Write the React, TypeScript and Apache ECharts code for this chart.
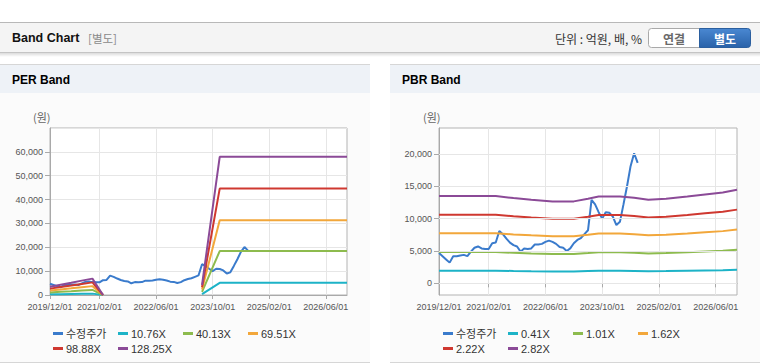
import React, { useEffect, useRef } from 'react';
import * as echarts from 'echarts';

// ---------- data ----------
const months: string[] = [];
for (let y = 2019, m = 12; y < 2027; ) {
  months.push(`${y}/${String(m).padStart(2, '0')}/01`);
  if (y === 2026 && m === 12) break;
  m++;
  if (m > 12) { m = 1; y++; }
}

const xTickLabels = ['2019/12/01', '2021/02/01', '2022/06/01', '2023/10/01', '2025/02/01', '2026/06/01'];

// 수정주가 (monthly from 2019/12)
const price = [
  4700, 4200, 3700, 3200, 4200, 4200, 4300, 4400, 4200, 4900,
  5500, 5700, 5400, 5300, 5300, 6200, 6300, 8100, 7600, 6900,
  6300, 5900, 5700, 4900, 5400, 5300, 5400, 6000, 6000, 6100,
  6400, 6600, 6400, 6100, 5600, 5500, 5000, 5400, 6200, 6700,
  7000, 7600, 8200, 12900, 12200, 11000, 10000, 11000, 10900, 10300,
  9000, 9500, 12200, 15000, 18100, 20100, 18600,
];

// PER band
const perNames = ['10.76X', '40.13X', '69.51X', '98.88X', '128.25X'];
const perDates1 = ['2019/12/01', '2020/03/01', '2020/06/01', '2020/09/01', '2020/12/01', '2021/03/01'];
const perGapDate = '2022/06/01';
const perDates2 = ['2023/07/01', '2023/12/01', '2026/12/01'];
const per1076 = [290, 360, 430, 505, 575, 0, 350, 5100, 5100];
const per4013 = [1085, 1345, 1605, 1885, 2145, 0, 1310, 18400, 18400];
const per6951 = [1875, 2330, 2780, 3265, 3720, 0, 2275, 31300, 31300];
const per9888 = [2670, 3310, 3955, 4645, 5290, 0, 3235, 44600, 44600];
const per12825 = [3465, 4295, 5130, 6030, 6860, 0, 4195, 57900, 57900];
const perTicks = [0, 10000, 20000, 30000, 40000, 50000, 60000, 70000];

// PBR band
const pbrNames = ['0.41X', '1.01X', '1.62X', '2.22X', '2.82X'];
const pbrDates = [
  '2019/12/01', '2021/04/01', '2021/09/01', '2022/02/01', '2022/08/01', '2023/02/01', '2023/06/01', '2023/09/01',
  '2024/03/01', '2024/07/01', '2024/11/01', '2025/04/01', '2025/10/01', '2026/03/01', '2026/08/01', '2026/12/01',
];
const pbr041 = [1960, 1960, 1915, 1878, 1841, 1841, 1902, 1952, 1952, 1923, 1878, 1902, 1952, 1997, 2042, 2103];
const pbr101 = [4828, 4828, 4717, 4626, 4535, 4535, 4686, 4808, 4808, 4737, 4626, 4686, 4808, 4919, 5030, 5181];
const pbr162 = [7744, 7744, 7565, 7420, 7274, 7274, 7517, 7711, 7711, 7598, 7420, 7517, 7711, 7889, 8068, 8311];
const pbr222 = [10612, 10612, 10367, 10168, 9968, 9968, 10301, 10567, 10567, 10412, 10168, 10301, 10567, 10811, 11056, 11389];
const pbr282 = [13480, 13480, 13169, 12916, 12662, 12662, 13085, 13423, 13423, 13226, 12916, 13085, 13423, 13733, 14044, 14467];
const pbrTicks = [0, 5000, 10000, 15000, 20000];

// ---------- style ----------
const FONT = "'Liberation Sans', Arial, 'Noto Sans CJK KR', sans-serif";
const KFONT = "'Noto Sans CJK KR', 'Liberation Sans', sans-serif";
const PRICE_NAME = '수정주가';
const BAND_COLORS = ['#1db3c7', '#8dbb4e', '#f2a73b', '#cf3830', '#8b4a97'];
const PRICE_COLOR = '#3a7bcc';

const perBands = [per1076, per4013, per6951, per9888, per12825];
const pbrBands = [pbr041, pbr101, pbr162, pbr222, pbr282];

function perPairs(vals: number[]) {
  const out: any[] = [];
  perDates1.forEach((d, i) => out.push([d, vals[i]]));
  out.push([perGapDate, '-']);
  perDates2.forEach((d, i) => out.push([d, vals[perDates1.length + i]]));
  return out;
}
function pbrPairs(vals: number[]) {
  return pbrDates.map((d, i) => [d, vals[i]]);
}

const fmt = (v: number) => Number(v).toLocaleString('en-US');
const showTick = (_i: number, v: string) => xTickLabels.includes(v);

function xAxisFor(gridIndex: number) {
  return {
    type: 'category',
    gridIndex,
    data: months,
    boundaryGap: false,
    axisLine: { show: true, lineStyle: { color: '#a9a9a9' } },
    axisTick: { show: true, interval: showTick, length: 4, lineStyle: { color: '#a9a9a9' } },
    axisLabel: { interval: showTick, fontSize: 9, color: '#555', margin: 7, fontFamily: FONT },
    splitLine: { show: true, interval: showTick, lineStyle: { color: '#e6e6e6' } },
  };
}

function legendItem(name: string, left: number, top: number) {
  return {
    data: [name],
    left,
    top,
    padding: 0,
    itemGap: 0,
    itemWidth: 10,
    itemHeight: 3,
    icon: 'rect',
    selectedMode: false,
    textStyle: { fontSize: 11, color: '#333', fontFamily: FONT, padding: [0, 0, 0, -2] },
  };
}

function buildOption() {
  const lineSeries = (name: string, color: string, data: any[], xi: number, z = 3) => ({
    type: 'line',
    name,
    xAxisIndex: xi,
    yAxisIndex: xi,
    data,
    symbol: 'none',
    showSymbol: false,
    z,
    lineStyle: { color, width: 2 },
    itemStyle: { color },
    connectNulls: false,
  });

  const series: any[] = [
    {
      type: 'line', name: 'grid-pbr', xAxisIndex: 1, yAxisIndex: 1, data: [], z: 1, silent: true,
      markLine: {
        silent: true, symbol: ['none', 'none'], label: { show: false },
        lineStyle: { color: '#e6e6e6', type: 'solid', width: 1 },
        data: pbrTicks.map((v) => ({ yAxis: v })),
      },
    },
    lineSeries(PRICE_NAME, PRICE_COLOR, price, 0, 2),
    ...perBands.map((b, i) => lineSeries(perNames[i], BAND_COLORS[i], perPairs(b), 0)),
    lineSeries(PRICE_NAME, PRICE_COLOR, price, 1, 2),
    ...pbrBands.map((b, i) => lineSeries(pbrNames[i], BAND_COLORS[i], pbrPairs(b), 1)),
  ];

  const legends: any[] = [];
  const perLegendNames = [PRICE_NAME, ...perNames];
  const pbrLegendNames = [PRICE_NAME, ...pbrNames];
  perLegendNames.forEach((n, i) => legends.push(legendItem(n, 53 + (i % 4) * 65, 328 + Math.floor(i / 4) * 15)));
  pbrLegendNames.forEach((n, i) => legends.push(legendItem(n, 443 + (i % 4) * 65, 328 + Math.floor(i / 4) * 15)));

  const grad = new echarts.graphic.LinearGradient(0, 0, 0, 1, [
    { offset: 0, color: '#4a88d2' },
    { offset: 1, color: '#2962a9' },
  ]);
  const shadowGrad = new echarts.graphic.LinearGradient(0, 0, 0, 1, [
    { offset: 0, color: 'rgba(0,0,0,0.14)' },
    { offset: 1, color: 'rgba(0,0,0,0)' },
  ]);

  const panel = (x: number, title: string) => [
    { type: 'rect', z: -20, shape: { x, y: 64, width: 370, height: 299 }, style: { fill: '#fbfbfb' } },
    { type: 'rect', z: -19, shape: { x, y: 64, width: 370, height: 29 }, style: { fill: '#eef2f7' } },
    { type: 'line', z: -18, shape: { x1: x, y1: 64.5, x2: x + 370, y2: 64.5 }, style: { stroke: '#d6d6d6', lineWidth: 1 } },
    { type: 'line', z: -18, shape: { x1: x, y1: 362.5, x2: x + 370, y2: 362.5 }, style: { stroke: '#d6d6d6', lineWidth: 1 } },
    { type: 'text', z: 10, x: x + 12, y: 80, style: { text: title, fill: '#000', fontSize: 12, fontWeight: 'bold', fontFamily: FONT, verticalAlign: 'middle' } },
  ];

  const graphics: any[] = [
    { type: 'rect', z: -20, shape: { x: 0, y: 22, width: 760, height: 31 }, style: { fill: '#f4f4f4' } },
    { type: 'rect', z: -20, shape: { x: 0, y: 53, width: 760, height: 4 }, style: { fill: shadowGrad } },
    { type: 'line', z: -18, shape: { x1: 0, y1: 22.5, x2: 760, y2: 22.5 }, style: { stroke: '#b8b8b8', lineWidth: 1 } },
    { type: 'line', z: -18, shape: { x1: 0, y1: 52.5, x2: 760, y2: 52.5 }, style: { stroke: '#c4c4c4', lineWidth: 1 } },
    { type: 'text', z: 10, x: 12, y: 38, style: { text: 'Band Chart', fill: '#111', fontSize: 12.5, fontWeight: 'bold', fontFamily: FONT, verticalAlign: 'middle' } },
    { type: 'text', z: 10, x: 88, y: 38, style: { text: '[별도]', fill: '#8a8a8a', fontSize: 11.5, fontFamily: KFONT, verticalAlign: 'middle' } },
    { type: 'text', z: 10, x: 642, y: 38, style: { text: '단위 : 억원, 배, %', fill: '#333', fontSize: 12, fontFamily: KFONT, align: 'right', verticalAlign: 'middle' } },
    { type: 'rect', z: 5, shape: { x: 648.5, y: 28.5, width: 51, height: 19, r: [3, 0, 0, 3] }, style: { fill: '#fff', stroke: '#a9a9a9', lineWidth: 1 } },
    { type: 'text', z: 10, x: 674, y: 38, style: { text: '연결', fill: '#6a6a6a', fontSize: 12, fontWeight: 'bold', fontFamily: KFONT, align: 'center', verticalAlign: 'middle' } },
    { type: 'rect', z: 5, shape: { x: 699.5, y: 28.5, width: 51, height: 19, r: [0, 3, 3, 0] }, style: { fill: grad, stroke: '#2b5f9f', lineWidth: 1 } },
    { type: 'text', z: 10, x: 725, y: 38, style: { text: '별도', fill: '#fff', fontSize: 12, fontWeight: 'bold', fontFamily: KFONT, align: 'center', verticalAlign: 'middle' } },
    ...panel(0, 'PER Band'),
    ...panel(390, 'PBR Band'),
    { type: 'text', z: 10, x: 33, y: 117, style: { text: '(원)', fill: '#666', fontSize: 11, fontFamily: KFONT, verticalAlign: 'middle' } },
    { type: 'text', z: 10, x: 423, y: 117, style: { text: '(원)', fill: '#666', fontSize: 11, fontFamily: KFONT, verticalAlign: 'middle' } },
  ];

  return {
    animation: false,
    textStyle: { fontFamily: FONT },
    graphic: { elements: graphics },
    legend: legends,
    grid: [
      { left: 50, top: 128, width: 297, height: 167, show: true, backgroundColor: '#fff', borderColor: '#b3b3b3', borderWidth: 1 },
      { left: 439, top: 128, width: 298, height: 167, show: true, backgroundColor: '#fff', borderColor: '#b3b3b3', borderWidth: 1 },
    ],
    xAxis: [xAxisFor(0), xAxisFor(1)],
    yAxis: [
      {
        type: 'value', gridIndex: 0, min: perTicks[0], max: perTicks[perTicks.length - 1], interval: 10000,
        axisLine: { show: true, lineStyle: { color: '#a9a9a9' } },
        axisTick: { show: true, length: 5, lineStyle: { color: '#a9a9a9' } },
        axisLabel: { showMaxLabel: false, fontSize: 9, color: '#555', margin: 7, formatter: fmt, fontFamily: FONT },
        splitLine: { show: true, lineStyle: { color: '#e6e6e6' } },
      },
      {
        type: 'value', gridIndex: 1, min: -1800, max: 24000,
        axisLine: { show: true, lineStyle: { color: '#a9a9a9' } },
        axisTick: { show: true, length: 5, customValues: pbrTicks, lineStyle: { color: '#a9a9a9' } },
        axisLabel: { customValues: pbrTicks, fontSize: 9, color: '#555', margin: 7, formatter: fmt, fontFamily: FONT },
        splitLine: { show: false },
      },
    ],
    series,
  };
}

export default function App() {
  const ref = useRef<HTMLDivElement>(null);
  useEffect(() => {
    const chart = echarts.init(ref.current!, null, { renderer: 'svg' });
    chart.setOption(buildOption() as any);
    return () => chart.dispose();
  }, []);
  return <div ref={ref} style={{ position: 'absolute', left: 0, top: 0, width: 760, height: 364 }} />;
}
